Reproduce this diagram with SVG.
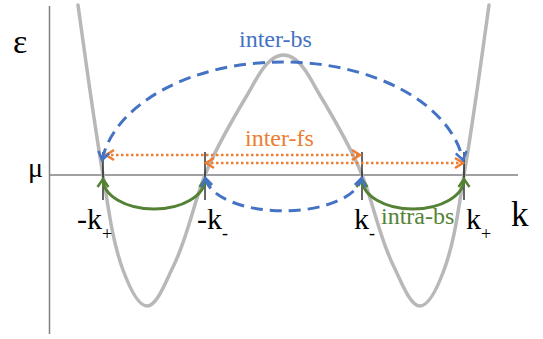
<svg xmlns="http://www.w3.org/2000/svg" width="543" height="339" viewBox="0 0 543 339">
<style>
.axis{stroke:#808080;stroke-width:1.5;fill:none}
.band{stroke:#b8b8b8;stroke-width:3.5;fill:none;stroke-linecap:round;stroke-linejoin:round}
.tick{stroke:#000;stroke-width:1.2}
.lbl{font-family:"Liberation Serif","Times New Roman",serif;fill:#000}
.bs{stroke:#4472C4;stroke-width:3;fill:none;stroke-dasharray:12 7}
.fs{stroke:#ED7D31;stroke-width:2.5;fill:none;stroke-dasharray:2.5 2.5}
.ia{stroke:#548235;stroke-width:3;fill:none}
.t{font-family:"Liberation Serif","Times New Roman",serif;font-size:24px}
</style>
<defs>
<marker id="mb" markerUnits="userSpaceOnUse" viewBox="-12 -8 14 16" refX="0" refY="0" markerWidth="14" markerHeight="16" orient="auto-start-reverse"><path d="M-8,-5.5 L0,0 L-8,5.5" fill="none" stroke="#4472C4" stroke-width="2.5"/></marker>
<marker id="mo" markerUnits="userSpaceOnUse" viewBox="-12 -8 14 16" refX="0" refY="0" markerWidth="14" markerHeight="16" orient="auto-start-reverse"><path d="M-8,-5 L0,0 L-8,5" fill="none" stroke="#ED7D31" stroke-width="2.5"/></marker>
<marker id="mg" markerUnits="userSpaceOnUse" viewBox="-12 -8 14 16" refX="0" refY="0" markerWidth="14" markerHeight="16" orient="auto-start-reverse"><path d="M-8,-5.5 L0,0 L-8,5.5" fill="none" stroke="#548235" stroke-width="2.5"/></marker>
</defs>
<g id="axes">
<line class="axis" x1="49.5" y1="6" x2="49.5" y2="334" stroke="#6e6e6e"/>
<line class="axis" x1="49" y1="175" x2="518" y2="175"/>
</g>
<g id="band">
<path class="band" d="M78,5 C85.9,61.7 93.4,118.5 103,175 C108.4,206.9 111.8,239.6 123,270 C128,283.5 137,306 147,306 C157,306 166,281 173,267 C187.5,238 192.9,205.2 205,175 C215.9,147.7 230.9,122.2 246,97 C251.4,88 256,78.6 262,70 C269,60 276.2,55 283.5,55 C290.8,55 298,60 305,70 C311,78.6 315.6,88 321,97 C336.1,122.2 351.1,147.7 362,175 C374.1,205.2 379.5,238 394,267 C401,281 410,306 420,306 C430,306 439,283.5 444,270 C455.2,239.6 458.6,206.9 464,175 C473.6,118.5 481.1,61.7 489,5"/>
</g>
<g id="ticks">
<line class="tick" x1="103" y1="152" x2="103" y2="200"/>
<line class="tick" x1="205" y1="152" x2="205" y2="200"/>
<line class="tick" x1="362" y1="152" x2="362" y2="200"/>
<line class="tick" x1="464" y1="152" x2="464" y2="200"/>
</g>
<g id="labels" class="lbl">
<text x="13" y="53" font-size="34">ε</text>
<text x="28" y="177" font-size="28">μ</text>
<text x="511" y="226" font-size="35">k</text>
<text x="77" y="229" font-size="30">-k<tspan font-size="18" dy="11">+</tspan></text>
<text x="197" y="229" font-size="30">-k<tspan font-size="18" dy="10">-</tspan></text>
<text x="354" y="229" font-size="30">k<tspan font-size="18" dy="10">-</tspan></text>
<text x="466" y="229" font-size="30">k<tspan font-size="18" dy="11">+</tspan></text>
</g>
<g id="connectors">
<path class="ia" d="M103,179 A51,30 0 0 0 205,179" marker-start="url(#mg)" marker-end="url(#mg)"/>
<path class="ia" d="M362,179 A51,30 0 0 0 464,179" marker-start="url(#mg)" marker-end="url(#mg)"/>
<path class="fs" d="M106,155 H360" marker-start="url(#mo)" marker-end="url(#mo)"/>
<path class="fs" d="M206,163 H463" marker-start="url(#mo)" marker-end="url(#mo)"/>
<path class="bs" d="M102.1,160 A182,113 0 0 1 462.9,160" marker-start="url(#mb)" marker-end="url(#mb)"/>
<path class="bs" d="M205.3,178 A78.5,36 0 0 0 361.7,178" marker-start="url(#mb)" marker-end="url(#mb)"/>
</g>
<g id="connector-labels">
<text class="t" x="239" y="47" fill="#4472C4">inter-bs</text>
<text class="t" x="245" y="146" fill="#ED7D31">inter-fs</text>
<text class="t" x="381" y="224" fill="#548235">intra-bs</text>
</g>
</svg>
